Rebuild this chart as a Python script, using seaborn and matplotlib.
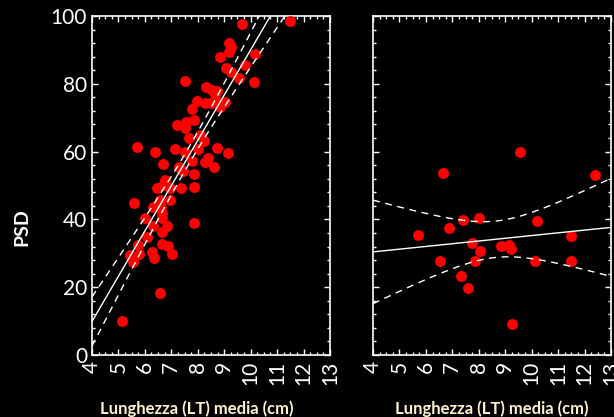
import numpy as np
import pandas as pd
import matplotlib
matplotlib.use("Agg")
import matplotlib.pyplot as plt
from matplotlib.ticker import MultipleLocator
import seaborn as sns

# Pannello sinistro: lunghezza media (cm) vs PSD
lt_sx = [9.66, 11.49, 9.19, 9.25, 9.19, 10.18, 8.83, 9.79, 9.07, 9.25,
         9.56, 10.14, 7.53, 8.31, 8.53, 8.72, 8.65, 7.98, 8.27, 8.50,
         8.78, 9.03, 8.84, 7.79, 7.23, 7.56, 7.87, 7.52, 7.67, 8.08,
         8.24, 5.71, 6.38, 7.14, 7.52, 8.00, 8.72, 9.13, 6.70, 7.29,
         7.43, 7.77, 7.85, 8.40, 8.27, 8.63, 6.77, 6.45, 6.70, 6.95,
         7.35, 7.85, 5.60, 6.57, 6.95, 6.32, 6.61, 6.64, 6.00, 6.64,
         6.32, 6.83, 6.64, 7.85, 6.07, 5.75, 6.64, 6.86, 5.44, 5.78,
         6.28, 6.34, 7.01, 5.56, 6.59, 5.13]
psd_sx = [97.6, 98.4, 91.9, 90.8, 89.5, 88.7, 87.8, 85.5, 84.6, 83.4,
          81.7, 80.5, 80.9, 79.0, 78.2, 78.0, 77.0, 74.8, 74.4, 74.4,
          74.7, 74.6, 73.2, 72.5, 67.9, 68.7, 69.2, 66.9, 63.9, 64.9,
          63.1, 61.4, 59.8, 60.7, 60.0, 60.7, 61.1, 59.5, 56.3, 55.4,
          54.3, 57.3, 53.4, 58.2, 57.0, 55.4, 51.6, 49.2, 50.1, 49.4,
          49.2, 49.6, 44.7, 45.7, 45.7, 43.6, 43.6, 41.8, 40.3, 40.3,
          38.1, 38.1, 36.4, 38.8, 34.7, 32.4, 32.7, 32.2, 29.5, 29.8,
          30.3, 28.5, 29.8, 27.3, 18.4, 9.9]

# Pannello destro
lt_dx = [6.65, 9.56, 12.40, 5.70, 6.87, 7.40, 8.01, 10.20, 11.49, 7.74,
         8.05, 8.84, 9.14, 9.22, 6.53, 7.86, 10.13, 11.49, 7.33, 7.59, 9.26]
psd_dx = [53.7, 59.9, 53.1, 35.4, 37.5, 39.8, 40.4, 39.5, 35.1, 33.0,
          30.7, 32.2, 32.4, 31.3, 27.7, 27.7, 27.7, 27.7, 23.3, 19.8, 9.1]

x_ticks = list(range(4, 14))
y_ticks = [0, 20, 40, 60, 80, 100]
xlabel = "Lunghezza (LT) media (cm)"
ylabel = "PSD"


def banda_ci(x, y, griglia):
    # intervallo di confidenza al 95% della retta di regressione
    x = np.asarray(x)
    y = np.asarray(y)
    n = len(x)
    b, a = np.polyfit(x, y, 1)
    res = y - (a + b * x)
    s = np.sqrt(np.sum(res ** 2) / (n - 2))
    df_ = n - 2
    z = 1.959964
    t = z + (z ** 3 + z) / (4 * df_) + (5 * z ** 5 + 16 * z ** 3 + 3 * z) / (96 * df_ ** 2)
    sxx = np.sum((x - x.mean()) ** 2)
    se = s * np.sqrt(1 / n + (griglia - x.mean()) ** 2 / sxx)
    fit = a + b * griglia
    return fit - t * se, fit + t * se


sns.set_theme(style="ticks")
plt.rcParams['font.family'] = ['Lato', 'DejaVu Sans']
plt.rcParams['figure.facecolor'] = 'black'
plt.rcParams['axes.facecolor'] = 'black'

fig = plt.figure(figsize=(6.14, 4.17), dpi=100)
ax1 = fig.add_axes([0.1498, 0.1487, 0.3876, 0.8129])
ax2 = fig.add_axes([0.6075, 0.1487, 0.3876, 0.8129])

dati = [(ax1, lt_sx, psd_sx), (ax2, lt_dx, psd_dx)]
for ax, xs, ys in dati:
    df = pd.DataFrame({"lt": xs, "psd": ys})
    ax.set_xlim(4, 13)
    ax.set_ylim(0, 100)
    sns.regplot(data=df, x="lt", y="psd", ax=ax, truncate=False, ci=None,
                scatter_kws=dict(s=62, color="#ff0000", linewidths=0, zorder=3, alpha=1),
                line_kws=dict(color="white", lw=1.0, zorder=4))
    griglia = np.linspace(4, 13, 200)
    basso, alto = banda_ci(xs, ys, griglia)
    banda = pd.DataFrame({"x": np.concatenate([griglia, griglia]),
                          "y": np.concatenate([basso, alto]),
                          "lato": ["basso"] * len(griglia) + ["alto"] * len(griglia)})
    sns.lineplot(data=banda, x="x", y="y", units="lato", estimator=None, ax=ax,
                 color="white", lw=1.0, dashes=False, zorder=4,
                 linestyle=(0, (5, 4)), legend=False)
    ax.set_xlim(4, 13)
    ax.set_ylim(0, 100)
    ax.set_xticks(x_ticks)
    ax.set_yticks(y_ticks)
    ax.xaxis.set_minor_locator(MultipleLocator(0.25))
    ax.yaxis.set_minor_locator(MultipleLocator(4))
    ax.tick_params(which="both", direction="in", top=True, right=True,
                   color="white", width=1)
    ax.tick_params(which="major", length=4, labelsize=15, labelcolor="white")
    ax.tick_params(which="minor", length=2)
    ax.tick_params(axis="x", labelrotation=90, pad=4)
    for s in ax.spines.values():
        s.set_color("white")
        s.set_linewidth(1.2)
    ax.set_xlabel(xlabel, color="#fff3cc", fontweight="bold", fontsize=12)
    ax.set_ylabel("")

ax1.set_ylabel(ylabel, color="white", fontweight="bold", fontsize=14)
ax1.yaxis.set_label_coords(-0.26, 0.378)
ax1.xaxis.set_label_coords(0.44, -0.133)
ax2.xaxis.set_label_coords(0.5, -0.133)
ax2.tick_params(axis="y", labelleft=False)

fig.savefig("out.png", dpi=100, facecolor="black")
